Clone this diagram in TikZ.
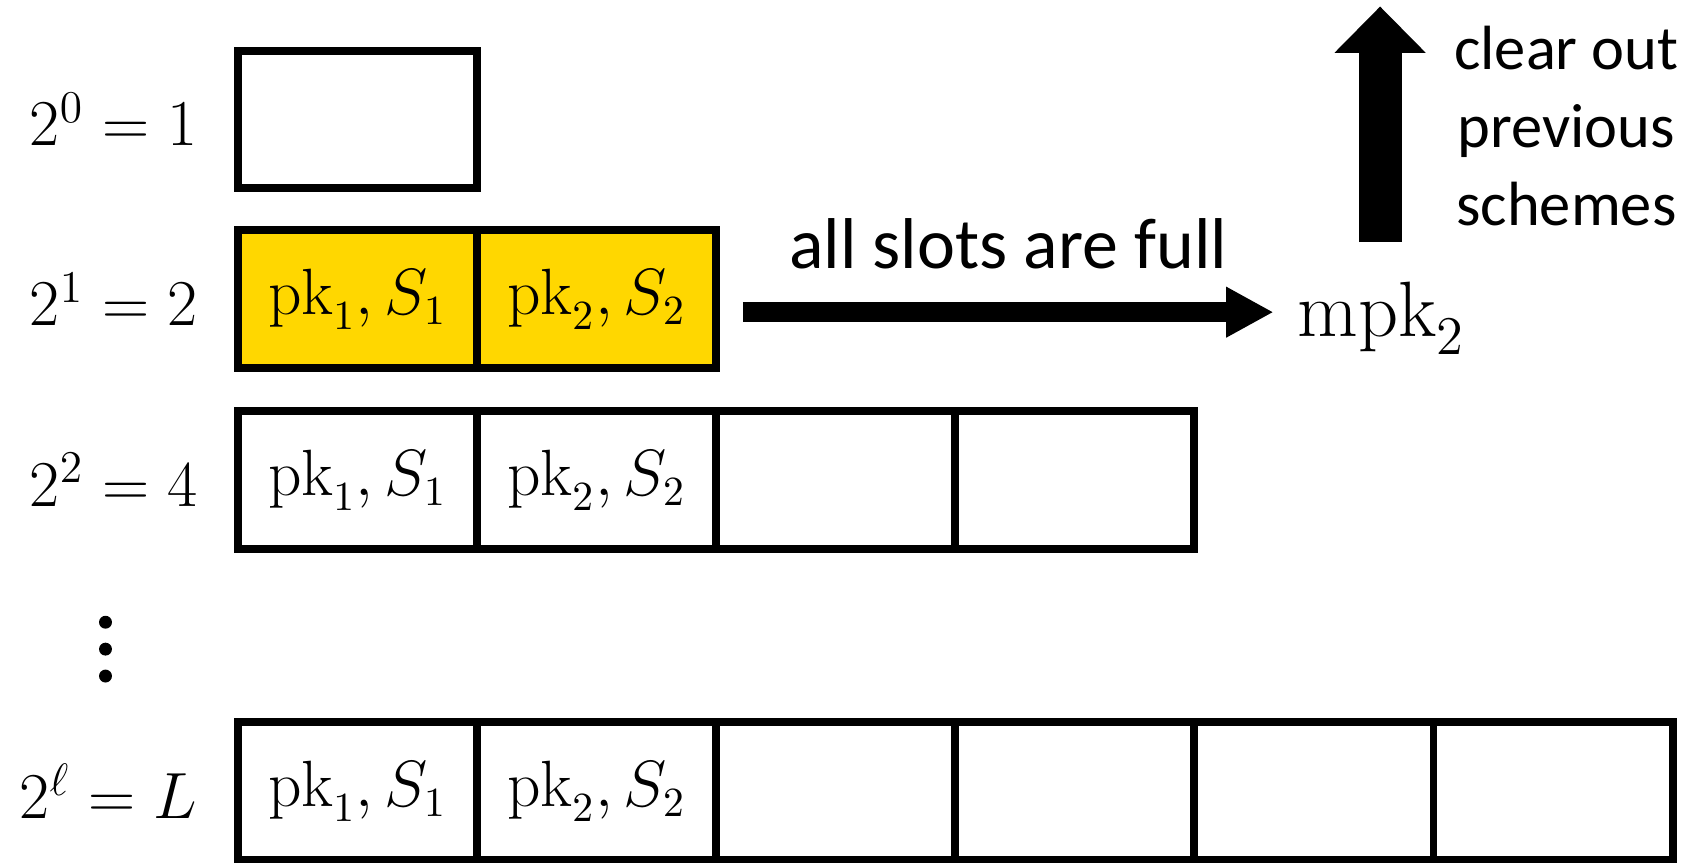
\documentclass[tikz,border=0pt]{standalone}
\usepackage[no-math]{fontspec}
\setmainfont{Carlito}
\usepackage{amsmath}
\usetikzlibrary{arrows.meta,positioning}
\definecolor{fullgold}{RGB}{255,215,0}
\tikzset{
  slot/.style    ={draw, line width=2.1pt, outer sep=0pt, inner sep=0pt,
                   minimum width=2.22cm, minimum height=1.28cm,
                   font=\fontsize{16}{19}\selectfont},
  fullslot/.style={slot, fill=fullgold},
  lvl/.style     ={anchor=east, inner sep=0pt,
                   font=\fontsize{18}{21}\selectfont},
  bigarr/.style  ={-{Triangle[length=0.44cm,width=0.44cm]}, line width=0.18cm},
  uparr/.style   ={-{Triangle[length=0.43cm,width=0.82cm]}, line width=0.40cm},
}

\begin{document}
\begin{tikzpicture}[x=0.01cm,y=-0.01cm]
  \useasboundingbox (0,0) rectangle (1568,801);
  %% level labels
  \node[lvl] (lab0) at (184,111) {$2^0=1$};
  \node[lvl] (lab1) at (184,278) {$2^1=2$};
  \node[lvl] (lab2) at (184,446) {$2^2=4$};
  \node[lvl] (labL) at (184,735) {$2^\ell=L$};
  \foreach \k in {0,1,2}
    \fill (98,578+25*\k) circle (0.06cm);
  %% slots
  \node[slot] (r0-1) at (332,111) {};
  \node[fullslot] (r1-1) at (332,278) {$\mathrm{pk}_1, S_1$};
  \node[fullslot, right=0pt of r1-1] (r1-2) {$\mathrm{pk}_2, S_2$};
  \foreach \r/\n/\y in {2/4/446, L/6/735} {
    \node[slot] (r\r-1) at (332,\y) {$\mathrm{pk}_1, S_1$};
    \node[slot, right=0pt of r\r-1] (r\r-2) {$\mathrm{pk}_2, S_2$};
    \foreach \c [evaluate=\c as \p using int(\c-1)] in {3,...,\n}
      \node[slot, right=0pt of r\r-\p] (r\r-\c) {};
  }
  %% merge into mpk
  \node[anchor=west, inner xsep=0.22cm, inner ysep=0pt,
        font=\fontsize{20}{24}\selectfont] (mpk) at (1183,296) {$\mathrm{mpk}_2$};
  \coordinate (fullstart) at (690,290);
  \draw[bigarr] (fullstart) -- node[above=0.31cm, inner sep=0pt,
        font=\fontsize{19}{23}\selectfont] (fulltxt) {all slots are full}
        (fullstart -| mpk.west);
  %% clear out
  \coordinate (clrtail) at (1282,225);
  \coordinate (clrtip) at (1282,6);
  \draw[uparr] (clrtail) -- (clrtip);
  \node[align=center, inner sep=0pt, font=\fontsize{16.5}{20.5}\selectfont]
        (clear) at (1455,117) {clear out\\previous\\schemes};
\end{tikzpicture}
\end{document}
